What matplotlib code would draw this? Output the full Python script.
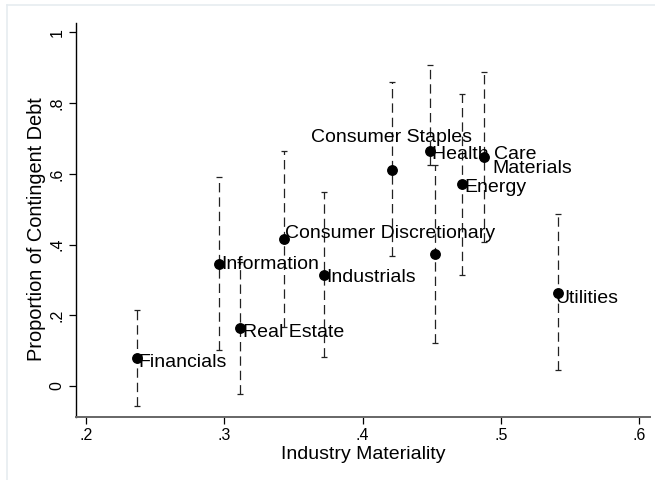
import numpy as np
import matplotlib
matplotlib.use("Agg")
from matplotlib import pyplot as plt
from matplotlib.lines import Line2D

plt.rcParams['font.family'] = ['Liberation Sans', 'DejaVu Sans']

sectors = ["Financials", "Information", "Real Estate", "Consumer Discretionary",
           "Industrials", "Consumer Staples", "Health Care", "", "Energy",
           "Materials", "Utilities"]
materiality = [0.237, 0.296, 0.311, 0.343, 0.372, 0.421, 0.449, 0.452, 0.472, 0.488, 0.541]
proportion = [0.079, 0.346, 0.165, 0.416, 0.315, 0.612, 0.666, 0.374, 0.571, 0.647, 0.264]
ci_low = [-0.057, 0.103, -0.023, 0.168, 0.081, 0.368, 0.625, 0.123, 0.315, 0.406, 0.045]
ci_high = [0.216, 0.590, 0.352, 0.666, 0.548, 0.860, 0.909, 0.625, 0.826, 0.888, 0.486]

xticks = [0.2, 0.3, 0.4, 0.5, 0.6]
xticklabels = [".2", ".3", ".4", ".5", ".6"]
yticks = [0, 0.2, 0.4, 0.6, 0.8, 1]
yticklabels = ["0", ".2", ".4", ".6", ".8", "1"]

# label placement (pixels from the marker, like Stata's mlabposition)
label_offsets = [(1, -8.5), (2, -5.5), (3, -9.5), (1, 0.5), (2, -7.5), (0, 27.5),
                 (2, -8), (0, 0), (2, -8), (8, -15.5), (-2, -10.5)]

x = np.array(materiality)
y = np.array(proportion)
lo = np.array(ci_low)
hi = np.array(ci_high)

fig = plt.figure(figsize=(6.55, 4.8), dpi=100)
ax = fig.add_axes([0.1156, 0.13125, 0.8768, 0.821])

eb = ax.errorbar(x, y, yerr=[y - lo, hi - y], fmt='none', ecolor='#222222',
                 elinewidth=0.9, capsize=2.3, capthick=0.9, zorder=2)
eb[2][0].set_linestyle((0, (7.5, 4.0)))

ax.plot(x, y, 'o', color='black', markersize=6.8, zorder=3)

for xi, yi, name, off in zip(x, y, sectors, label_offsets):
    if not name:
        continue
    ha = 'center' if off[0] == 0 else 'left'
    ax.annotate(name, (xi, yi), xytext=off, textcoords='offset pixels',
                ha=ha, va='baseline', fontsize=14, color='black', zorder=4)

ax.set_xlim(0.1926, 0.6077)
ax.set_ylim(-0.0877, 1.027)
ax.set_xticks(xticks)
ax.set_xticklabels(xticklabels)
ax.set_yticks(yticks)
ax.set_yticklabels(yticklabels, rotation=90, va='center')
ax.tick_params(axis='both', direction='out', length=5, width=0.9, labelsize=11.5,
               color='black')
ax.tick_params(axis='x', pad=3)
ax.tick_params(axis='y', pad=3)

for s in ['top', 'right']:
    ax.spines[s].set_visible(False)
ax.spines['left'].set_color('black')
ax.spines['left'].set_linewidth(1.0)
ax.spines['bottom'].set_color('#666666')
ax.spines['bottom'].set_linewidth(1.4)

ax.set_xlabel("Industry Materiality", fontsize=14, labelpad=2)
ax.set_ylabel("Proportion of Contingent Debt", fontsize=14.4)
ax.yaxis.set_label_coords(-0.052, 0.477)

# faint outer frame of the graph region
fig.add_artist(Line2D([7 / 655, 1], [1 - 5 / 480, 1 - 5 / 480], color='#e6ecf0', lw=1.2))
fig.add_artist(Line2D([7 / 655, 7 / 655], [0, 1 - 5 / 480], color='#e6ecf0', lw=1.2))

fig.savefig("out.png", dpi=100)
